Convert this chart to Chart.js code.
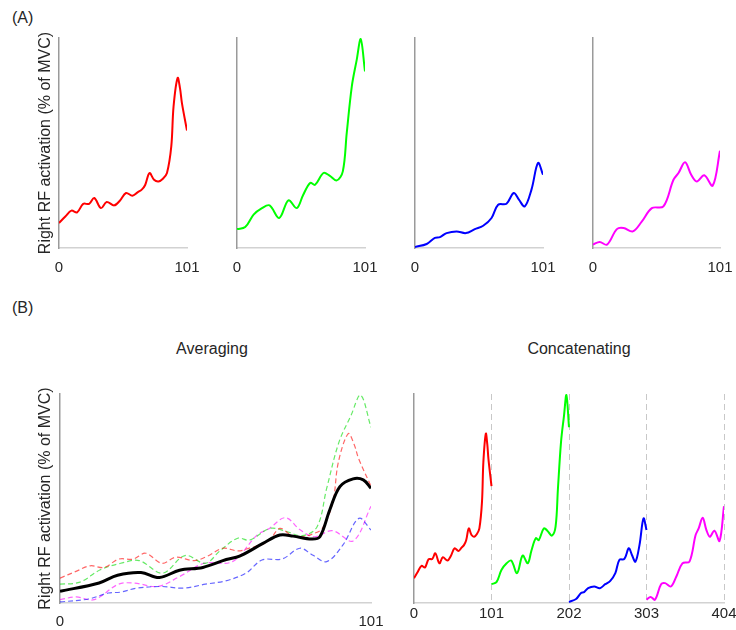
<!DOCTYPE html>
<html lang="en">
<head>
  <meta charset="UTF-8" />
  <title>Right RF activation | Averaging vs Concatenating</title>
  <script src="https://cdn.jsdelivr.net/npm/chart.js"></script>
  <style>
    * { margin: 0; padding: 0; box-sizing: border-box; }

    body {
      width: 736px;
      height: 630px;
      position: relative;
      overflow: hidden;
      background: #fff;
      font-family: 'Liberation Sans', Arial, sans-serif;
      color: #262626;
    }

    .panel { position: absolute; }

    .tag {
      position: absolute;
      font-size: 16px;
      line-height: 18px;
    }

    .head {
      position: absolute;
      font-size: 16px;
      line-height: 20px;
      white-space: nowrap;
      transform: translateX(-50%);
    }
  </style>
</head>
<body>
  <div class="tag" style="left:12px; top:9px;">(A)</div>
  <div class="tag" style="left:12px; top:299px;">(B)</div>
  <div class="head" style="left:212px; top:339px;">Averaging</div>
  <div class="head" style="left:579px; top:339px;">Concatenating</div>

  <div class="panel" style="left:0; top:0; width:200px; height:280px;"><canvas id="a1"></canvas></div>
  <div class="panel" style="left:200px; top:0; width:180px; height:280px;"><canvas id="a2"></canvas></div>
  <div class="panel" style="left:380px; top:0; width:180px; height:280px;"><canvas id="a3"></canvas></div>
  <div class="panel" style="left:560px; top:0; width:176px; height:280px;"><canvas id="a4"></canvas></div>
  <div class="panel" style="left:0; top:370px; width:390px; height:260px;"><canvas id="avg"></canvas></div>
  <div class="panel" style="left:390px; top:370px; width:346px; height:260px;"><canvas id="cat"></canvas></div>

  <script>
    // curves (x = % of cycle, 0..101; y = % of scale height)
    const redX = [0, 5, 9.8, 14.3, 19.1, 23.8, 27.8, 33.1, 37.6, 43.6, 48, 52.9, 57.9, 62, 65.3, 68, 71.4, 75, 78.5, 82, 85.2, 88.6, 90.4, 93.6, 95.5, 97, 101];
    const redY = [11.9, 15, 17.8, 17, 21, 21, 23.8, 19, 21.9, 20.3, 22.5, 26.2, 24.9, 26.5, 27.8, 30, 35.7, 32.5, 31.7, 33, 35.7, 48.4, 67.4, 81, 76, 69, 55.9];

    const greenX = [0, 6.5, 13.1, 19.7, 25.7, 33.3, 40.6, 47.2, 52, 57.7, 61.6, 68.2, 73, 78.7, 83.5, 86.6, 90.6, 94.5, 97.6, 101];
    const greenY = [9, 10, 15.9, 19, 20.3, 14.3, 22.7, 19, 25, 31, 30.1, 35.7, 34.5, 32.2, 36.5, 54.8, 77, 89.7, 99.5, 84.1];

    const blueX = [0, 9.2, 15.7, 19.7, 24.9, 32.8, 40.2, 47.2, 53.8, 60.4, 65.6, 72.2, 77.9, 82, 86.6, 91.9, 97.1, 101];
    const blueY = [0.5, 1.9, 4.8, 5.2, 7.1, 7.9, 7.1, 9, 10.6, 14.3, 20.6, 21.1, 26.2, 23, 19.8, 27.8, 40.5, 34.9];

    const magentaX = [0, 5.3, 11.1, 19, 24.3, 31.7, 38.9, 46.8, 56, 64, 68, 73.2, 78, 82.5, 88.5, 95.2, 101];
    const magentaY = [1.6, 2.9, 1.6, 9, 9.5, 7.9, 12.7, 19, 19.8, 32.5, 35.7, 40.8, 35, 31.7, 34.6, 29.7, 46.3];

    const meanX = [0, 12.7, 18.7, 26.3, 32.3, 38.8, 46.4, 54, 58.3, 65.9, 71.4, 75.7, 81.7, 84.4, 87.6, 90.9, 95.2, 98.5, 101];
    const meanY = [5.6, 9.6, 13.3, 14.6, 12.2, 15.7, 17, 20.8, 22.4, 28.5, 32.5, 32, 30.6, 31.7, 44.5, 55.7, 59.4, 58.9, 54.9];

    const cycleTicks = [0, 101];
    const concatTicks = [0, 101, 202, 303, 404];
    const yTitle = 'Right RF activation (% of MVC)';

    Chart.defaults.font.family = "'Liberation Sans', Arial, sans-serif";
    Chart.defaults.font.size = 15;
    Chart.defaults.color = '#262626';

    function pts(xs, ys, shift = 0) {
      return xs.map((x, i) => ({ x: x + shift, y: ys[i] }));
    }

    function solid(xs, ys, color, shift = 0) {
      return { data: pts(xs, ys, shift), borderColor: color, borderWidth: 2 };
    }

    function dashed(xs, ys, color) {
      return { data: pts(xs, ys), borderColor: color, borderWidth: 1.2, borderDash: [5, 3] };
    }

    function panel(id, o) {
      return new Chart(document.getElementById(id), {
        type: 'line',
        data: { datasets: o.datasets },
        options: {
          responsive: true,
          maintainAspectRatio: false,
          animation: false,
          layout: { padding: { left: 0, right: o.right, top: o.top, bottom: 0 } },
          plugins: { legend: { display: false }, tooltip: { enabled: false } },
          elements: { point: { radius: 0 }, line: { tension: 0.35 } },
          scales: {
            x: {
              type: 'linear',
              min: 0,
              max: o.xTicks[o.xTicks.length - 1],
              afterBuildTicks: s => { s.ticks = o.xTicks.map(v => ({ value: v })); },
              afterFit: s => { s.height = o.xHeight; s.paddingLeft = 0; s.paddingRight = 0; },
              ticks: { padding: o.tickPad, maxRotation: 0, autoSkip: false },
              grid: o.grid || { display: false },
              border: { color: '#d2d2d2', width: 1.5, dash: [6, 4] }
            },
            y: {
              min: 0,
              max: 100,
              ticks: { display: false },
              grid: { display: false },
              border: { color: '#9a9a9a', width: 1.5 },
              title: {
                display: !!o.yTitle,
                text: yTitle,
                font: { size: 16 },
                padding: { top: 36, bottom: 0 }
              },
              afterFit: s => { s.width = o.yWidth; s.paddingTop = 0; s.paddingBottom = 0; }
            }
          }
        }
      });
    }

    // (A) single cycles
    panel('a1', { datasets: [solid(redX, redY, '#ff0000')], xTicks: cycleTicks, yWidth: 59, right: 13, top: 38, xHeight: 32, tickPad: 3, yTitle: true });
    panel('a2', { datasets: [solid(greenX, greenY, '#00ff00')], xTicks: cycleTicks, yWidth: 37, right: 15, top: 38, xHeight: 32, tickPad: 3 });
    panel('a3', { datasets: [solid(blueX, blueY, '#0000ff')], xTicks: cycleTicks, yWidth: 35, right: 17, top: 38, xHeight: 32, tickPad: 3 });
    panel('a4', { datasets: [solid(magentaX, magentaY, '#ff00ff')], xTicks: cycleTicks, yWidth: 33, right: 16, top: 38, xHeight: 32, tickPad: 3 });

    // (B) averaging: mean on top of the four cycles
    panel('avg', {
      datasets: [
        { data: pts(meanX, meanY), borderColor: '#000', borderWidth: 3 },
        dashed(redX, redY, 'rgba(255,0,0,0.6)'),
        dashed(greenX, greenY, 'rgba(0,220,0,0.6)'),
        dashed(blueX, blueY, 'rgba(0,0,255,0.6)'),
        dashed(magentaX, magentaY, 'rgba(255,0,255,0.6)')
      ],
      xTicks: cycleTicks, yWidth: 60, right: 19, top: 24, xHeight: 27, tickPad: 2, yTitle: true
    });

    // (B) concatenating: cycles laid end to end
    panel('cat', {
      datasets: [
        solid(redX, redY, '#ff0000', 0),
        solid(greenX, greenY, '#00ff00', 101),
        solid(blueX, blueY, '#0000ff', 202),
        solid(magentaX, magentaY, '#ff00ff', 303)
      ],
      xTicks: concatTicks, yWidth: 24, right: 12, top: 24, xHeight: 27, tickPad: 2,
      grid: {
        display: true,
        drawTicks: false,
        lineWidth: 1,
        color: c => (c.tick && c.tick.value === 0 ? 'rgba(0,0,0,0)' : '#c8c8c8')
      }
    });
  </script>
</body>
</html>
